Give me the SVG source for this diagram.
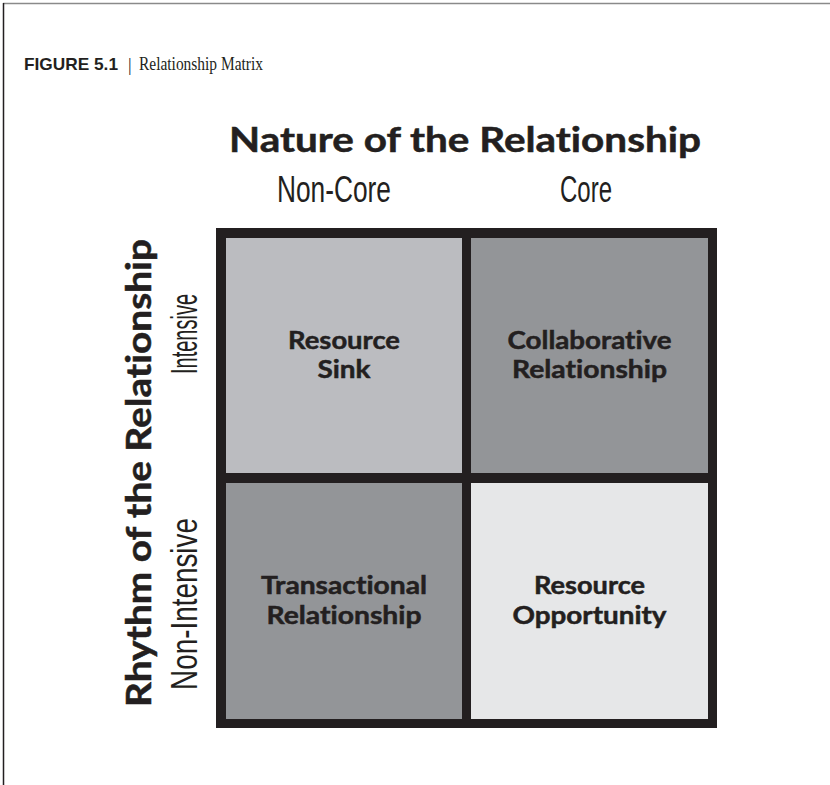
<svg xmlns="http://www.w3.org/2000/svg" width="830" height="785" viewBox="0 0 830 785">
<style>
.cap{font-family:"Liberation Sans",Arial,sans-serif;font-weight:bold;font-size:17px;fill:#231f20}
.capt{font-family:"Liberation Serif","Times New Roman",serif;font-size:18px;fill:#231f20}
.title{font-family:Lato,"Open Sans",sans-serif;font-weight:bold;font-size:34px;fill:#231f20;font-variant-ligatures:none;stroke:#231f20;stroke-width:0.5}
.axis{font-family:"Liberation Sans",Arial,sans-serif;font-size:37px;fill:#231f20;text-anchor:middle}
.cell{font-family:Lato,"Open Sans",sans-serif;font-weight:bold;font-size:25px;fill:#231f20;text-anchor:middle;font-variant-ligatures:none;stroke:#231f20;stroke-width:0.5}
</style>
<rect width="830" height="785" fill="#ffffff"/>
<line x1="3" y1="3.5" x2="830" y2="3.5" stroke="#8a8a8a" stroke-width="1.5"/>
<line x1="3.5" y1="3" x2="3.5" y2="785" stroke="#231f20" stroke-width="1.5"/>
<g id="caption">
<text class="cap" x="24" y="70" textLength="94" lengthAdjust="spacingAndGlyphs">FIGURE 5.1</text>
<text class="capt" x="128" y="71">|</text>
<text class="capt" x="139" y="70" textLength="124" lengthAdjust="spacingAndGlyphs">Relationship Matrix</text>
</g>
<g id="title">
<text class="title" x="465" y="152" text-anchor="middle" textLength="472" lengthAdjust="spacingAndGlyphs">Nature of the Relationship</text>
</g>
<g id="col-labels">
<text class="axis" x="334" y="202" textLength="114" lengthAdjust="spacingAndGlyphs">Non-Core</text>
<text class="axis" x="586" y="202" textLength="52" lengthAdjust="spacingAndGlyphs">Core</text>
</g>
<g id="row-title">
<text class="title" transform="translate(151,473) rotate(-90)" text-anchor="middle" textLength="468" lengthAdjust="spacingAndGlyphs">Rhythm of the Relationship</text>
</g>
<g id="row-labels">
<text class="axis" transform="translate(197,334) rotate(-90)" textLength="80" lengthAdjust="spacingAndGlyphs">Intensive</text>
<text class="axis" transform="translate(197,604) rotate(-90)" textLength="172" lengthAdjust="spacingAndGlyphs">Non-Intensive</text>
</g>
<g id="matrix">
<rect x="216" y="228" width="501" height="500" fill="#231f20"/>
</g>
<g id="resource-sink">
<rect x="226" y="238" width="236" height="235" fill="#bbbcc0"/>
<text class="cell" x="344" y="349" textLength="112" lengthAdjust="spacingAndGlyphs">Resource</text>
<text class="cell" x="344" y="378" textLength="53" lengthAdjust="spacingAndGlyphs">Sink</text>
</g>
<g id="collaborative-relationship">
<rect x="471" y="238" width="237" height="235" fill="#939598"/>
<text class="cell" x="589.5" y="349" textLength="164" lengthAdjust="spacingAndGlyphs">Collaborative</text>
<text class="cell" x="589.5" y="378" textLength="155" lengthAdjust="spacingAndGlyphs">Relationship</text>
</g>
<g id="transactional-relationship">
<rect x="226" y="483" width="236" height="236" fill="#939598"/>
<text class="cell" x="344" y="594" textLength="166" lengthAdjust="spacingAndGlyphs">Transactional</text>
<text class="cell" x="344" y="624" textLength="155" lengthAdjust="spacingAndGlyphs">Relationship</text>
</g>
<g id="resource-opportunity">
<rect x="471" y="483" width="237" height="236" fill="#e6e7e8"/>
<text class="cell" x="589.5" y="594" textLength="111" lengthAdjust="spacingAndGlyphs">Resource</text>
<text class="cell" x="589.5" y="624" textLength="154" lengthAdjust="spacingAndGlyphs">Opportunity</text>
</g>
<g id="connectors"/>
</svg>
